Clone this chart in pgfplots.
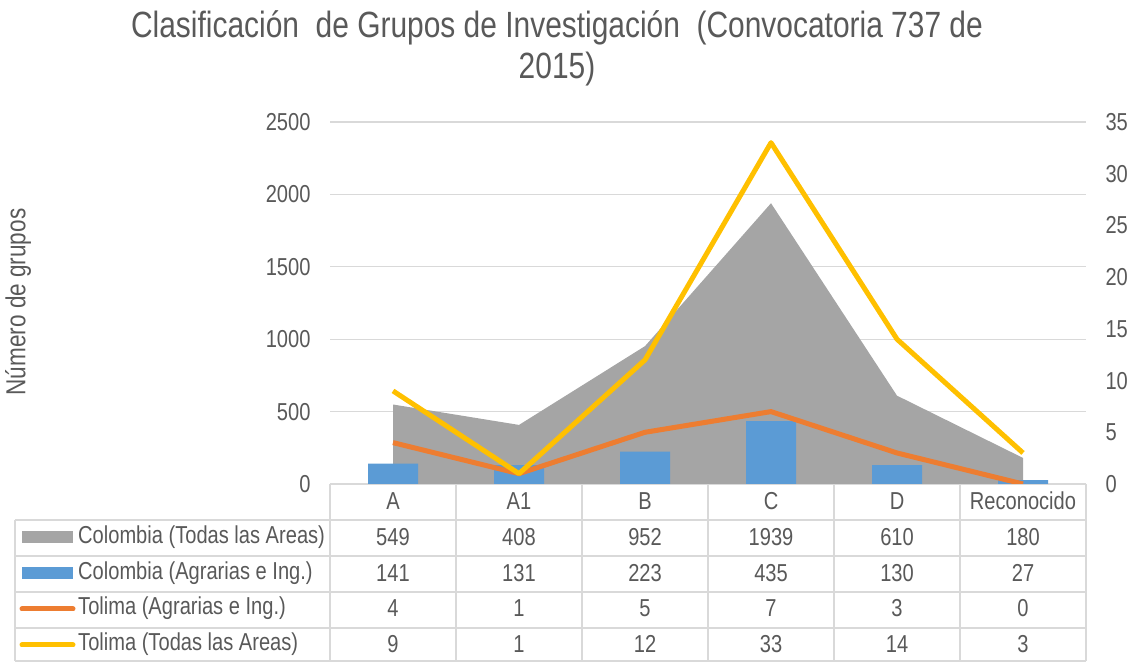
\documentclass[border=0pt]{standalone}
\usepackage{fontspec}
\setmainfont{Liberation Sans}[FakeStretch=0.82]
\usepackage{pgfplots}
\pgfplotsset{compat=1.18}
\definecolor{txt}{HTML}{595959}
\definecolor{grd}{HTML}{D9D9D9}
\definecolor{cgray}{HTML}{A5A5A5}
\definecolor{cblue}{HTML}{5B9BD5}
\definecolor{corange}{HTML}{ED7D31}
\definecolor{cyellow}{HTML}{FFC000}
\begin{document}
\begin{tikzpicture}[x=1pt,y=1pt]
\useasboundingbox (0,0) rectangle (1134,663);
\pgfplotsset{
  base/.style={at={(330pt,179pt)}, anchor=south west, scale only axis,
    width=756pt, height=362pt, xmin=-0.5, xmax=5.5, xtick=\empty,
    axis line style={draw=none}, major tick length=0pt,
    /pgf/number format/assume math mode=true,
    /pgf/number format/1000 sep={}, scaled ticks=false,
    ticklabel style={font=\fontsize{24.5}{24.5}\selectfont, text=txt}},
}
\begin{axis}[base, ymin=0, ymax=2500, ytick={0,500,...,2500},
  ymajorgrids, grid style={grd, line width=1.3pt},
  yticklabel style={xshift=-16pt}]
\addplot[fill=cgray, draw=none] coordinates {(0,549)(1,408)(2,952)(3,1939)(4,610)(5,180)} \closedcycle;
\addplot[ybar, bar width=50pt, fill=cblue, draw=none] coordinates {(0,141)(1,131)(2,223)(3,435)(4,130)(5,27)};
\end{axis}
\begin{axis}[base, ymin=0, ymax=35, ytick={0,5,...,35}, axis y line*=right,
  axis x line=none, yticklabel style={xshift=16pt}]
\addplot[corange, line width=5pt, line join=round] coordinates {(0,4)(1,1)(2,5)(3,7)(4,3)(5,0)};
\addplot[cyellow, line width=5pt, line join=round] coordinates {(0,9)(1,1)(2,12)(3,33)(4,14)(5,3)};
\end{axis}
% data table grid
\begin{scope}[grd, line width=1.3pt]
\foreach \k in {0,...,6} \draw (330+126*\k,179) -- (330+126*\k,2);
\foreach \yy in {143,107,71,35,2} \draw (15,\yy) -- (1086,\yy);
\draw (15,143) -- (15,2);
\end{scope}
\begin{scope}[every node/.style={font=\fontsize{24.5}{24.5}\selectfont, text=txt}]
\foreach \n [count=\i from 0] in {A,A1,B,C,D,Reconocido} \node at (393+126*\i,162) {\n};
\foreach \n [count=\i from 0] in {549,408,952,1939,610,180} \node at (393+126*\i,126) {\n};
\foreach \n [count=\i from 0] in {141,131,223,435,130,27} \node at (393+126*\i,90) {\n};
\foreach \n [count=\i from 0] in {4,1,5,7,3,0} \node at (393+126*\i,55) {\n};
\foreach \n [count=\i from 0] in {9,1,12,33,14,3} \node at (393+126*\i,19) {\n};
\node[anchor=west, inner sep=0pt] at (78,126) {Colombia (Todas las Areas)};
\node[anchor=west, inner sep=0pt] at (78,90) {Colombia (Agrarias e Ing.)};
\node[anchor=west, inner sep=0pt] at (78,55) {Tolima (Agrarias e Ing.)};
\node[anchor=west, inner sep=0pt] at (78,19) {Tolima (Todas las Areas)};
\end{scope}
\fill[cgray] (22,120) rectangle (73,132);
\fill[cblue] (22,84) rectangle (73,96);
\draw[corange, line width=5pt, line cap=round] (22,54) -- (73,54);
\draw[cyellow, line width=5pt, line cap=round] (22,18) -- (73,18);
\node[text=txt, font=\fontsize{36.5}{41}\selectfont, align=center] at (557,615) {Clasificación \ de Grupos de Investigación \ (Convocatoria 737 de\\2015)};
\node[text=txt, font=\fontsize{27.5}{27.5}\selectfont, rotate=90] at (18,361) {Número de grupos};
\end{tikzpicture}
\end{document}
